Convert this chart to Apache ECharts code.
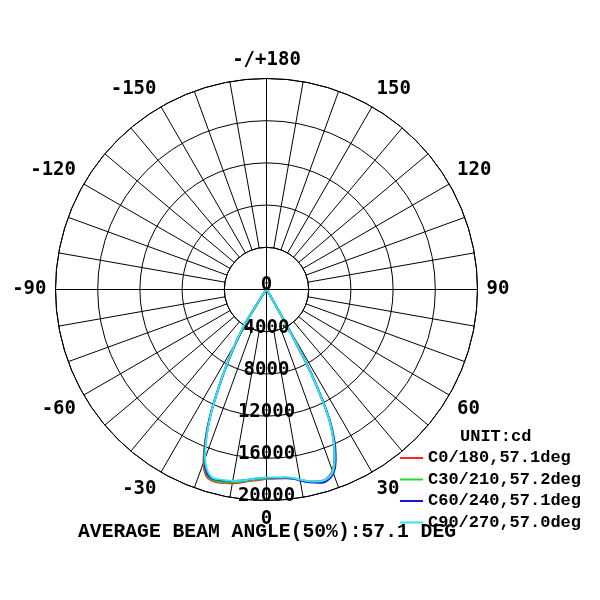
<!DOCTYPE html>
<html><head><meta charset="utf-8">
<script src="https://cdn.jsdelivr.net/npm/echarts@6/dist/echarts.min.js"></script>
<style>html,body{margin:0;padding:0;background:#fff}#c{width:600px;height:600px}</style>
</head><body><div id="c"></div>
<script>
// gamma angles (deg), negative = left half
const angles = [-90,-70,-50,-40,-36,-34,-33,-32,-30,-28,-26,-24,-22,-20,-18,-16,-14,-12,-10,-8,-6,-4,-2,0,2,4,6,8,10,12,14,16,18,20,22,24,26,28,29,30,32,34,36,40,50,70,90];
// intensities (cd)
const c0_180  = [0,0,40,120,250,700,1700,3500,5600,7800,10300,13200,15550,17450,18550,18850,18850,18750,18650,18500,18300,18150,18050,17950,17950,17950,18000,18120,18350,18580,18750,18880,18750,18300,17200,15600,13250,8900,5300,1900,450,180,90,40,0,0,0];
const c30_210 = [0,0,40,120,260,750,1800,3600,5700,7850,10350,13150,15400,17300,18400,18750,18750,18680,18550,18400,18250,18080,17980,17900,17900,17920,17960,18100,18330,18570,18770,18920,18800,18350,17250,15650,13300,8950,5400,1950,480,190,90,40,0,0,0];
const c60_240 = [0,0,40,120,270,800,1850,3700,5800,7900,10350,13100,15350,17200,18300,18650,18620,18550,18450,18300,18150,18000,17900,17850,17880,17900,17950,18100,18380,18650,18850,19050,18950,18550,17500,15900,13500,9200,5600,2100,500,200,100,50,0,0,0];
const c90_270 = [0,0,50,150,300,1000,2000,3900,5900,7950,10350,13050,15200,17050,18100,18580,18550,18500,18420,18300,18150,18000,17880,17820,17830,17860,17900,18050,18300,18550,18750,18900,18800,18400,17250,15650,13300,9000,5500,2000,500,200,100,50,0,0,0];
const seriesNames = ['C0/180,57.1deg','C30/210,57.2deg','C60/240,57.1deg','C90/270,57.0deg'];
const seriesColors = ['#ff2020','#22dd22','#1515e0','#30e6ee'];
const radialTicks = [0,4000,8000,12000,16000,20000];
const angleTickLabels = ['0','30','60','90','120','150','-/+180','-150','-120','-90','-60','-30'];
const titleText = 'AVERAGE BEAM ANGLE(50%):57.1 DEG';
const unitText = 'UNIT:cd';

const allSeries = [c0_180, c30_210, c60_240, c90_270];
const toPolar = vals => angles.map((a, i) => [vals[i], a < 0 ? a + 360 : a]);

const CX = 266.5, CY = 289.5, R = 211;
const rStep = R / (radialTicks.length - 1);
const monoBold = {fontFamily: 'DejaVu Sans Mono', fontWeight: 'bold', color: '#000'};
const courierBold = {fontFamily: 'Liberation Mono', fontWeight: 'bold', color: '#000'};

const chart = echarts.init(document.getElementById('c'), null, {renderer: 'canvas'});
chart.setOption({
  animation: false,
  backgroundColor: '#fff',
  polar: [
    {center: [CX, CY], radius: [rStep, R]},
    {center: [CX, CY], radius: [0, R]}
  ],
  angleAxis: [
    {
      polarIndex: 0, type: 'value', min: 0, max: 360, interval: 10,
      startAngle: 270, clockwise: false,
      axisLine: {show: true, lineStyle: {color: '#000', width: 1}},
      axisTick: {show: false},
      splitLine: {show: true, lineStyle: {color: '#000', width: 1}},
      axisLabel: {
        show: true, margin: 9, fontSize: 19, ...monoBold,
        formatter: v => (v % 30 === 0 && v < 360) ? angleTickLabels[v / 30] : ''
      }
    },
    {
      polarIndex: 1, type: 'value', min: 0, max: 360, interval: 90,
      startAngle: 270, clockwise: false,
      axisLine: {show: false}, axisTick: {show: false}, axisLabel: {show: false},
      splitLine: {show: true, lineStyle: {color: '#000', width: 1}}
    }
  ],
  radiusAxis: [
    {
      polarIndex: 0, type: 'value', min: radialTicks[1], max: radialTicks[radialTicks.length - 1], interval: radialTicks[1],
      axisLine: {show: false}, axisTick: {show: false}, axisLabel: {show: false},
      splitLine: {show: true, lineStyle: {color: '#000', width: 1}}
    },
    {
      polarIndex: 1, type: 'value', min: radialTicks[0], max: radialTicks[radialTicks.length - 1], interval: radialTicks[1],
      z: 20,
      axisLine: {show: false}, axisTick: {show: false}, splitLine: {show: false},
      axisLabel: {show: true, margin: 0, align: 'center', verticalAlign: 'bottom', lineHeight: 8, fontSize: 19, ...monoBold,
        formatter: v => radialTicks.indexOf(v) >= 0 ? String(v) : ''}
    }
  ],
  legend: {
    orient: 'vertical', left: 400, top: 449.5, padding: 0, itemGap: 4.5,
    itemWidth: 23, itemHeight: 2, icon: 'rect', itemStyle: {borderWidth: 0},
    textStyle: {fontSize: 17, lineHeight: 17, ...courierBold},
    data: seriesNames
  },
  graphic: [
    {type: 'text', x: 78, y: 532.5, silent: true, z: 20, style: {text: titleText, fill: '#000', font: 'bold 19.7px "Liberation Mono"', verticalAlign: 'middle', align: 'left'}},
    {type: 'text', x: 460, y: 436.5, silent: true, style: {text: unitText, fill: '#000', font: 'bold 17px "Liberation Mono"', verticalAlign: 'middle', align: 'left'}}
  ],
  series: allSeries.map((vals, i) => ({
    type: 'line', name: seriesNames[i], coordinateSystem: 'polar', polarIndex: 1,
    data: toPolar(vals), showSymbol: false, symbol: 'none', smooth: 0.3,
    lineStyle: {color: seriesColors[i], width: 2},
    itemStyle: {color: seriesColors[i]},
    z: 3 + i
  }))
});
</script></body></html>
